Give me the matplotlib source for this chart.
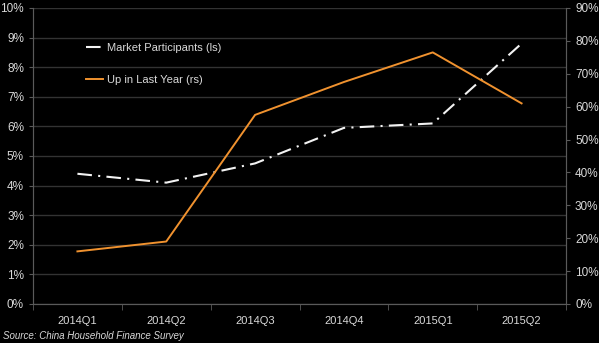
import matplotlib.pyplot as plt
from matplotlib.ticker import FuncFormatter

quarters = ["2014Q1", "2014Q2", "2014Q3", "2014Q4", "2015Q1", "2015Q2"]
participants = [4.4, 4.1, 4.75, 5.95, 6.1, 8.8]      # % of households, left scale
up_last_year = [16.0, 19.0, 57.5, 67.5, 76.5, 61.0]  # %, right scale

bg = "black"
fg = "#d9d9d9"
grid_c = "#333333"
spine_c = "#5a5a5a"
orange = "#f0922f"

plt.rcParams["font.family"] = ["Liberation Sans", "DejaVu Sans"]

fig = plt.figure(figsize=(5.99, 3.43), dpi=100, facecolor=bg)
ax = fig.add_axes([33 / 599, 39 / 343, 533 / 599, 296 / 343], facecolor=bg)
ax2 = ax.twinx()

x = range(len(quarters))
l1, = ax.plot(x, participants, color="#f2f2f2", lw=1.5, dashes=(7, 3, 1, 3),
              label="Market Participants (ls)")
l2, = ax2.plot(x, up_last_year, color=orange, lw=1.4, label="Up in Last Year (rs)")

ax.set_xlim(-0.5, len(quarters) - 0.5)
ax.set_ylim(0, 10)
ax2.set_ylim(0, 90)
ax.set_yticks(range(0, 11))
ax2.set_yticks(range(0, 91, 10))
pct = FuncFormatter(lambda v, _: f"{v:.0f}%")
ax.yaxis.set_major_formatter(pct)
ax2.yaxis.set_major_formatter(pct)

ax.set_xticks(list(x))
ax.set_xticklabels(quarters)
ax.set_xticks([i + 0.5 for i in range(-1, len(quarters))], minor=True)
ax.tick_params(axis="x", which="major", length=0, pad=8.5, colors=fg, labelsize=8)
ax.tick_params(axis="x", which="minor", length=4, color=spine_c, direction="out")
ax.tick_params(axis="y", length=3, color=spine_c, colors=fg, labelsize=8.5)
ax2.tick_params(axis="y", length=3, color=spine_c, colors=fg, labelsize=8.5)

ax.grid(axis="y", color=grid_c, lw=1)
ax.set_axisbelow(True)
for a in (ax, ax2):
    a.spines["top"].set_visible(False)
    for s in ("left", "right", "bottom"):
        a.spines[s].set_color(spine_c)

leg = ax.legend(handles=[l1, l2], loc="upper left", bbox_to_anchor=(0.08, 0.915),
                frameon=False, fontsize=8, labelcolor=fg, handlelength=1.6,
                handletextpad=0.3, labelspacing=2.0)

fig.text(3 / 599, 7 / 343, "Source: China Household Finance Survey", color=fg,
         fontsize=7, style="italic", ha="left", va="center")

fig.savefig("out.png", dpi=100, facecolor=bg)
